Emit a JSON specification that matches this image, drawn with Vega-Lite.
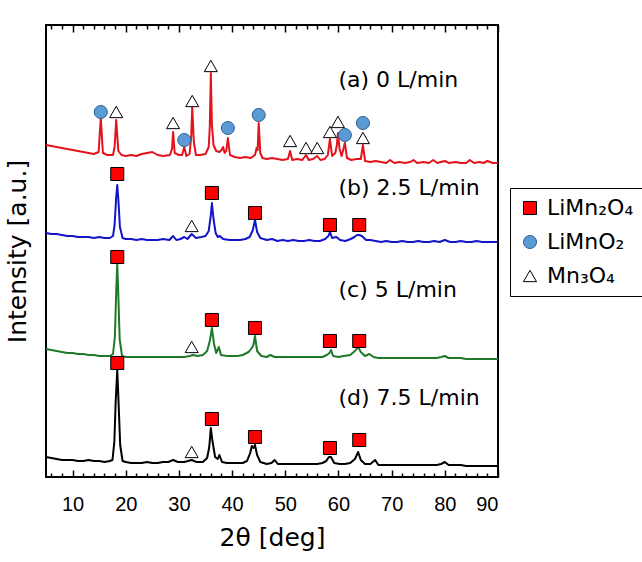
{
  "$schema": "https://vega.github.io/schema/vega-lite/v6.json",
  "width": 452,
  "height": 452,
  "autosize": {"type": "none"},
  "padding": {"left": 46, "top": 25, "right": 144, "bottom": 85},
  "config": {
    "view": {"stroke": "#000000", "strokeWidth": 2},
    "font": "DejaVu Sans",
    "legend": {
      "labelFont": "DejaVu Sans",
      "labelFontSize": 22,
      "labelColor": "#000000",
      "symbolSize": 170,
      "symbolStrokeWidth": 1,
      "strokeColor": "#000000",
      "fillColor": "#ffffff",
      "padding": 9,
      "rowPadding": 12,
      "labelOffset": 6,
      "labelLimit": 200
    }
  },
  "datasets": {
    "patterns": [
      {"s":"a","x":5,"y":332},{"s":"a","x":6,"y":331},{"s":"a","x":7,"y":330},{"s":"a","x":8,"y":329},{"s":"a","x":9,"y":328},{"s":"a","x":10,"y":327},{"s":"a","x":11,"y":326},{"s":"a","x":12,"y":325},{"s":"a","x":13,"y":324},{"s":"a","x":14,"y":323},{"s":"a","x":14.9,"y":325},{"s":"a","x":15.3,"y":359},{"s":"a","x":15.7,"y":324},{"s":"a","x":16.5,"y":322},{"s":"a","x":17.6,"y":322},{"s":"a","x":17.9,"y":330},{"s":"a","x":18.2,"y":357},{"s":"a","x":18.6,"y":326},{"s":"a","x":19.2,"y":322},{"s":"a","x":20,"y":321},{"s":"a","x":21,"y":322},{"s":"a","x":22,"y":321},{"s":"a","x":23,"y":323},{"s":"a","x":24,"y":324},{"s":"a","x":25,"y":325},{"s":"a","x":26,"y":322},{"s":"a","x":27,"y":321},{"s":"a","x":28.3,"y":322},{"s":"a","x":28.7,"y":328},{"s":"a","x":28.9,"y":345},{"s":"a","x":29.2,"y":324},{"s":"a","x":30,"y":322},{"s":"a","x":30.6,"y":322},{"s":"a","x":31.0,"y":330},{"s":"a","x":31.4,"y":321},{"s":"a","x":32.0,"y":323},{"s":"a","x":32.3,"y":340},{"s":"a","x":32.5,"y":370},{"s":"a","x":32.8,"y":335},{"s":"a","x":33.2,"y":322},{"s":"a","x":34,"y":322},{"s":"a","x":35,"y":323},{"s":"a","x":35.6,"y":330},{"s":"a","x":35.8,"y":350},{"s":"a","x":36.0,"y":404},{"s":"a","x":36.2,"y":352},{"s":"a","x":36.5,"y":332},{"s":"a","x":37,"y":326},{"s":"a","x":37.6,"y":325},{"s":"a","x":38.0,"y":327},{"s":"a","x":38.3,"y":330},{"s":"a","x":38.6,"y":324},{"s":"a","x":38.9,"y":326},{"s":"a","x":39.2,"y":339},{"s":"a","x":39.6,"y":322},{"s":"a","x":40.5,"y":320},{"s":"a","x":41.5,"y":319},{"s":"a","x":42.5,"y":320},{"s":"a","x":43.5,"y":319},{"s":"a","x":44.3,"y":322},{"s":"a","x":44.6,"y":329},{"s":"a","x":44.8,"y":327},{"s":"a","x":45.0,"y":354},{"s":"a","x":45.3,"y":324},{"s":"a","x":45.7,"y":319},{"s":"a","x":46.5,"y":318},{"s":"a","x":47.5,"y":319},{"s":"a","x":48.5,"y":318},{"s":"a","x":49.5,"y":317},{"s":"a","x":50.5,"y":318},{"s":"a","x":50.9,"y":326},{"s":"a","x":51.3,"y":317},{"s":"a","x":52.2,"y":318},{"s":"a","x":53.2,"y":317},{"s":"a","x":53.9,"y":322},{"s":"a","x":54.4,"y":317},{"s":"a","x":55.2,"y":318},{"s":"a","x":56.0,"y":321},{"s":"a","x":56.6,"y":317},{"s":"a","x":57.4,"y":318},{"s":"a","x":58.0,"y":322},{"s":"a","x":58.4,"y":338},{"s":"a","x":58.8,"y":321},{"s":"a","x":59.4,"y":324},{"s":"a","x":59.7,"y":332},{"s":"a","x":59.9,"y":344},{"s":"a","x":60.2,"y":328},{"s":"a","x":60.6,"y":321},{"s":"a","x":61.2,"y":334},{"s":"a","x":61.6,"y":319},{"s":"a","x":62.4,"y":317},{"s":"a","x":63.4,"y":318},{"s":"a","x":64.2,"y":318},{"s":"a","x":64.6,"y":332},{"s":"a","x":65.0,"y":316},{"s":"a","x":66,"y":315},{"s":"a","x":67,"y":316},{"s":"a","x":68,"y":315},{"s":"a","x":69,"y":314},{"s":"a","x":69.7,"y":317},{"s":"a","x":70.5,"y":314},{"s":"a","x":71.5,"y":315},{"s":"a","x":72.5,"y":314},{"s":"a","x":73.5,"y":315},{"s":"a","x":74.1,"y":317},{"s":"a","x":74.8,"y":314},{"s":"a","x":76,"y":315},{"s":"a","x":77,"y":314},{"s":"a","x":77.8,"y":317},{"s":"a","x":78.6,"y":314},{"s":"a","x":80,"y":316},{"s":"a","x":80.8,"y":314},{"s":"a","x":82,"y":315},{"s":"a","x":83,"y":314},{"s":"a","x":84,"y":314},{"s":"a","x":84.7,"y":317},{"s":"a","x":85.5,"y":314},{"s":"a","x":86.5,"y":315},{"s":"a","x":87.3,"y":314},{"s":"a","x":88,"y":316},{"s":"a","x":89,"y":314},{"s":"a","x":90,"y":314},

      {"s":"b","x":5,"y":244},{"s":"b","x":6,"y":243},{"s":"b","x":7,"y":243},{"s":"b","x":8,"y":242},{"s":"b","x":9,"y":241},{"s":"b","x":10,"y":241},{"s":"b","x":11,"y":240},{"s":"b","x":12,"y":240},{"s":"b","x":13,"y":240},{"s":"b","x":14,"y":239},{"s":"b","x":15,"y":240},{"s":"b","x":16,"y":239},{"s":"b","x":17,"y":239},{"s":"b","x":17.6,"y":241},{"s":"b","x":17.9,"y":252},{"s":"b","x":18.2,"y":280},{"s":"b","x":18.4,"y":292},{"s":"b","x":18.6,"y":278},{"s":"b","x":18.9,"y":250},{"s":"b","x":19.4,"y":239},{"s":"b","x":20,"y":238},{"s":"b","x":21,"y":238},{"s":"b","x":22,"y":237},{"s":"b","x":23,"y":238},{"s":"b","x":24,"y":237},{"s":"b","x":25,"y":237},{"s":"b","x":26,"y":237},{"s":"b","x":27,"y":238},{"s":"b","x":28.2,"y":237},{"s":"b","x":28.9,"y":241},{"s":"b","x":29.5,"y":237},{"s":"b","x":30.3,"y":238},{"s":"b","x":31.0,"y":240},{"s":"b","x":31.6,"y":238},{"s":"b","x":32.4,"y":243},{"s":"b","x":33.2,"y":239},{"s":"b","x":34.2,"y":240},{"s":"b","x":35,"y":241},{"s":"b","x":35.6,"y":246},{"s":"b","x":36.0,"y":262},{"s":"b","x":36.2,"y":274},{"s":"b","x":36.5,"y":258},{"s":"b","x":36.9,"y":244},{"s":"b","x":37.3,"y":240},{"s":"b","x":37.7,"y":241},{"s":"b","x":38.3,"y":238},{"s":"b","x":39.5,"y":237},{"s":"b","x":40.5,"y":237},{"s":"b","x":41.5,"y":237},{"s":"b","x":42.5,"y":238},{"s":"b","x":43.3,"y":240},{"s":"b","x":43.9,"y":247},{"s":"b","x":44.3,"y":257},{"s":"b","x":44.7,"y":245},{"s":"b","x":45.3,"y":239},{"s":"b","x":46.5,"y":237},{"s":"b","x":47.5,"y":238},{"s":"b","x":48.5,"y":236},{"s":"b","x":49.5,"y":237},{"s":"b","x":50.5,"y":236},{"s":"b","x":51.5,"y":237},{"s":"b","x":52.5,"y":236},{"s":"b","x":53.5,"y":236},{"s":"b","x":54.5,"y":237},{"s":"b","x":55.5,"y":236},{"s":"b","x":56.5,"y":236},{"s":"b","x":57.5,"y":238},{"s":"b","x":58.1,"y":241},{"s":"b","x":58.4,"y":245},{"s":"b","x":58.8,"y":239},{"s":"b","x":59.6,"y":240},{"s":"b","x":60.3,"y":237},{"s":"b","x":61.3,"y":236},{"s":"b","x":62.3,"y":238},{"s":"b","x":63.0,"y":240},{"s":"b","x":63.5,"y":242},{"s":"b","x":63.9,"y":242},{"s":"b","x":64.4,"y":241},{"s":"b","x":65.2,"y":237},{"s":"b","x":66,"y":237},{"s":"b","x":67,"y":236},{"s":"b","x":68,"y":235},{"s":"b","x":69,"y":236},{"s":"b","x":70,"y":235},{"s":"b","x":71,"y":235},{"s":"b","x":72,"y":236},{"s":"b","x":73,"y":235},{"s":"b","x":74,"y":235},{"s":"b","x":75,"y":236},{"s":"b","x":76,"y":235},{"s":"b","x":77,"y":235},{"s":"b","x":78,"y":236},{"s":"b","x":79,"y":235},{"s":"b","x":80,"y":237},{"s":"b","x":81,"y":235},{"s":"b","x":82,"y":235},{"s":"b","x":83,"y":236},{"s":"b","x":84,"y":235},{"s":"b","x":85,"y":235},{"s":"b","x":86,"y":236},{"s":"b","x":87,"y":235},{"s":"b","x":88,"y":235},{"s":"b","x":89,"y":235},{"s":"b","x":90,"y":235},

      {"s":"c","x":5,"y":128},{"s":"c","x":6,"y":127},{"s":"c","x":7,"y":126},{"s":"c","x":8,"y":125},{"s":"c","x":9,"y":124},{"s":"c","x":10,"y":124},{"s":"c","x":11,"y":123},{"s":"c","x":12,"y":123},{"s":"c","x":13,"y":122},{"s":"c","x":14,"y":122},{"s":"c","x":15,"y":121},{"s":"c","x":16,"y":121},{"s":"c","x":17,"y":121},{"s":"c","x":17.6,"y":123},{"s":"c","x":17.95,"y":140},{"s":"c","x":18.2,"y":185},{"s":"c","x":18.4,"y":213},{"s":"c","x":18.6,"y":182},{"s":"c","x":18.85,"y":138},{"s":"c","x":19.3,"y":121},{"s":"c","x":20,"y":120},{"s":"c","x":21,"y":120},{"s":"c","x":22,"y":120},{"s":"c","x":23,"y":120},{"s":"c","x":24,"y":120},{"s":"c","x":25,"y":120},{"s":"c","x":26,"y":120},{"s":"c","x":27,"y":120},{"s":"c","x":28,"y":120},{"s":"c","x":29,"y":120},{"s":"c","x":30,"y":120},{"s":"c","x":31,"y":120},{"s":"c","x":32,"y":121},{"s":"c","x":32.6,"y":122},{"s":"c","x":33.5,"y":121},{"s":"c","x":34.5,"y":122},{"s":"c","x":35.3,"y":126},{"s":"c","x":35.8,"y":136},{"s":"c","x":36.2,"y":149},{"s":"c","x":36.6,"y":133},{"s":"c","x":37.0,"y":124},{"s":"c","x":37.5,"y":130},{"s":"c","x":37.9,"y":122},{"s":"c","x":39,"y":121},{"s":"c","x":40,"y":121},{"s":"c","x":41,"y":121},{"s":"c","x":42,"y":122},{"s":"c","x":43.1,"y":125},{"s":"c","x":43.7,"y":129},{"s":"c","x":44.0,"y":132},{"s":"c","x":44.3,"y":141},{"s":"c","x":44.7,"y":126},{"s":"c","x":45.5,"y":121},{"s":"c","x":46.5,"y":120},{"s":"c","x":47.2,"y":122},{"s":"c","x":48,"y":120},{"s":"c","x":49,"y":120},{"s":"c","x":50,"y":120},{"s":"c","x":51,"y":120},{"s":"c","x":52,"y":120},{"s":"c","x":53,"y":120},{"s":"c","x":54,"y":120},{"s":"c","x":55,"y":120},{"s":"c","x":56,"y":120},{"s":"c","x":57,"y":120},{"s":"c","x":57.8,"y":122},{"s":"c","x":58.3,"y":124},{"s":"c","x":58.6,"y":127},{"s":"c","x":59.0,"y":121},{"s":"c","x":60,"y":120},{"s":"c","x":61,"y":121},{"s":"c","x":62.2,"y":122},{"s":"c","x":63.1,"y":126},{"s":"c","x":63.7,"y":130},{"s":"c","x":64.2,"y":125},{"s":"c","x":65,"y":121},{"s":"c","x":65.8,"y":123},{"s":"c","x":66.6,"y":120},{"s":"c","x":67.5,"y":119},{"s":"c","x":68.5,"y":119},{"s":"c","x":69.5,"y":119},{"s":"c","x":70.5,"y":119},{"s":"c","x":71.5,"y":119},{"s":"c","x":72.5,"y":119},{"s":"c","x":73.5,"y":119},{"s":"c","x":74.5,"y":119},{"s":"c","x":75.5,"y":119},{"s":"c","x":76.5,"y":119},{"s":"c","x":77.5,"y":119},{"s":"c","x":78.5,"y":119},{"s":"c","x":79.3,"y":120},{"s":"c","x":80,"y":121},{"s":"c","x":80.7,"y":119},{"s":"c","x":82,"y":119},{"s":"c","x":83,"y":119},{"s":"c","x":84,"y":118},{"s":"c","x":85,"y":118},{"s":"c","x":86,"y":118},{"s":"c","x":87,"y":118},{"s":"c","x":88,"y":118},{"s":"c","x":89,"y":118},{"s":"c","x":90,"y":118},

      {"s":"d","x":5,"y":20},{"s":"d","x":6,"y":19},{"s":"d","x":7,"y":18},{"s":"d","x":8,"y":17},{"s":"d","x":9,"y":17},{"s":"d","x":10,"y":17},{"s":"d","x":11,"y":16},{"s":"d","x":12,"y":16},{"s":"d","x":13,"y":17},{"s":"d","x":14,"y":16},{"s":"d","x":15,"y":16},{"s":"d","x":16,"y":15},{"s":"d","x":17,"y":16},{"s":"d","x":17.5,"y":17},{"s":"d","x":17.85,"y":35},{"s":"d","x":18.1,"y":75},{"s":"d","x":18.4,"y":107},{"s":"d","x":18.65,"y":74},{"s":"d","x":18.95,"y":32},{"s":"d","x":19.4,"y":16},{"s":"d","x":20,"y":15},{"s":"d","x":21,"y":14},{"s":"d","x":22,"y":14},{"s":"d","x":23,"y":14},{"s":"d","x":24,"y":15},{"s":"d","x":25,"y":14},{"s":"d","x":26,"y":14},{"s":"d","x":27,"y":15},{"s":"d","x":28,"y":15},{"s":"d","x":28.9,"y":17},{"s":"d","x":29.8,"y":15},{"s":"d","x":31,"y":15},{"s":"d","x":32.4,"y":17},{"s":"d","x":33.3,"y":15},{"s":"d","x":34.5,"y":15},{"s":"d","x":35.3,"y":19},{"s":"d","x":35.7,"y":30},{"s":"d","x":36.0,"y":49},{"s":"d","x":36.3,"y":36},{"s":"d","x":36.8,"y":20},{"s":"d","x":37.3,"y":18},{"s":"d","x":37.6,"y":22},{"s":"d","x":38.1,"y":15},{"s":"d","x":39,"y":14},{"s":"d","x":40,"y":14},{"s":"d","x":41,"y":14},{"s":"d","x":42,"y":14},{"s":"d","x":42.8,"y":16},{"s":"d","x":43.4,"y":24},{"s":"d","x":43.7,"y":31},{"s":"d","x":44.0,"y":29},{"s":"d","x":44.3,"y":32},{"s":"d","x":44.7,"y":22},{"s":"d","x":45.3,"y":15},{"s":"d","x":46.5,"y":13},{"s":"d","x":47.4,"y":14},{"s":"d","x":48.0,"y":17},{"s":"d","x":48.6,"y":13},{"s":"d","x":50,"y":13},{"s":"d","x":51,"y":13},{"s":"d","x":52,"y":13},{"s":"d","x":53,"y":13},{"s":"d","x":54,"y":13},{"s":"d","x":55,"y":13},{"s":"d","x":56,"y":13},{"s":"d","x":57,"y":14},{"s":"d","x":57.7,"y":16},{"s":"d","x":58.2,"y":20},{"s":"d","x":58.6,"y":20},{"s":"d","x":59.2,"y":14},{"s":"d","x":60.2,"y":13},{"s":"d","x":61.2,"y":13},{"s":"d","x":62.2,"y":14},{"s":"d","x":63.1,"y":18},{"s":"d","x":63.7,"y":25},{"s":"d","x":64.2,"y":17},{"s":"d","x":65,"y":13},{"s":"d","x":66,"y":13},{"s":"d","x":66.9,"y":17},{"s":"d","x":67.5,"y":12},{"s":"d","x":68.5,"y":12},{"s":"d","x":69.5,"y":12},{"s":"d","x":70.5,"y":12},{"s":"d","x":71.5,"y":12},{"s":"d","x":72.5,"y":12},{"s":"d","x":73.5,"y":12},{"s":"d","x":74.5,"y":12},{"s":"d","x":75.5,"y":12},{"s":"d","x":76.5,"y":12},{"s":"d","x":77.5,"y":12},{"s":"d","x":78.5,"y":12},{"s":"d","x":79.3,"y":13},{"s":"d","x":80,"y":15},{"s":"d","x":80.7,"y":12},{"s":"d","x":82,"y":12},{"s":"d","x":83,"y":12},{"s":"d","x":84,"y":11},{"s":"d","x":85,"y":11},{"s":"d","x":86,"y":11},{"s":"d","x":87,"y":11},{"s":"d","x":88,"y":11},{"s":"d","x":89,"y":11},{"s":"d","x":90,"y":11}
    ],
    "markers": [
      {"phase":"LiMnO₂","x":15.3,"y":365},
      {"phase":"Mn₃O₄","x":18.2,"y":365},
      {"phase":"Mn₃O₄","x":28.9,"y":354},
      {"phase":"LiMnO₂","x":31.0,"y":337},
      {"phase":"Mn₃O₄","x":32.5,"y":376},
      {"phase":"Mn₃O₄","x":36.0,"y":411},
      {"phase":"LiMnO₂","x":39.2,"y":349},
      {"phase":"LiMnO₂","x":45.0,"y":362},
      {"phase":"Mn₃O₄","x":50.9,"y":336},
      {"phase":"Mn₃O₄","x":53.9,"y":329},
      {"phase":"Mn₃O₄","x":56.0,"y":329},
      {"phase":"Mn₃O₄","x":58.4,"y":345},
      {"phase":"Mn₃O₄","x":59.9,"y":355},
      {"phase":"LiMnO₂","x":61.2,"y":342},
      {"phase":"Mn₃O₄","x":64.6,"y":339},
      {"phase":"LiMnO₂","x":64.6,"y":354},
      {"phase":"LiMn₂O₄","x":18.4,"y":303},
      {"phase":"Mn₃O₄","x":32.4,"y":251},
      {"phase":"LiMn₂O₄","x":36.2,"y":284},
      {"phase":"LiMn₂O₄","x":44.3,"y":264},
      {"phase":"LiMn₂O₄","x":58.4,"y":252},
      {"phase":"LiMn₂O₄","x":63.9,"y":252},
      {"phase":"LiMn₂O₄","x":18.4,"y":220},
      {"phase":"Mn₃O₄","x":32.4,"y":130},
      {"phase":"LiMn₂O₄","x":36.2,"y":157},
      {"phase":"LiMn₂O₄","x":44.3,"y":149},
      {"phase":"LiMn₂O₄","x":58.4,"y":136},
      {"phase":"LiMn₂O₄","x":63.9,"y":136},
      {"phase":"LiMn₂O₄","x":18.4,"y":114},
      {"phase":"Mn₃O₄","x":32.4,"y":25},
      {"phase":"LiMn₂O₄","x":36.2,"y":58},
      {"phase":"LiMn₂O₄","x":44.3,"y":40},
      {"phase":"LiMn₂O₄","x":58.4,"y":29},
      {"phase":"LiMn₂O₄","x":63.9,"y":37}
    ],
    "labels": [
      {"label":"(a) 0 L/min","x":60,"y":397},
      {"label":"(b) 2.5 L/min","x":60,"y":289},
      {"label":"(c) 5 L/min","x":60,"y":187},
      {"label":"(d) 7.5 L/min","x":60,"y":79}
    ]
  },
  "layer": [
    {
      "data": {"name": "patterns"},
      "mark": {"type": "line", "strokeWidth": 2, "strokeJoin": "round"},
      "encoding": {
        "x": {
          "field": "x", "type": "quantitative",
          "scale": {"domain": [5, 90], "nice": false, "zero": false},
          "axis": {
            "orient": "bottom",
            "title": "2θ [deg]",
            "titleFont": "DejaVu Sans",
            "titleFontSize": 25,
            "titleFontWeight": "normal",
            "titleColor": "#000000",
            "titlePadding": 8,
            "values": [6,8,10,12,14,16,18,20,22,24,26,28,30,32,34,36,38,40,42,44,46,48,50,52,54,56,58,60,62,64,66,68,70,72,74,76,78,80,82,84,86,88,90],
            "labelExpr": "datum.value % 10 === 0 ? datum.label : ''",
            "labelFont": "Liberation Sans",
            "labelFontSize": 20,
            "labelColor": "#000000",
            "labelPadding": 24,
            "labelOverlap": false,
            "tickSize": {"condition": {"test": "datum.value % 10 === 0", "value": -7}, "value": -4},
            "tickColor": "#000000",
            "tickWidth": 1.5,
            "domain": false,
            "grid": false
          }
        },
        "y": {
          "field": "y", "type": "quantitative",
          "scale": {"domain": [0, 452], "nice": false},
          "axis": {
            "title": "Intensity [a.u.]",
            "titleFont": "DejaVu Sans",
            "titleFontSize": 25,
            "titleFontWeight": "normal",
            "titleColor": "#000000",
            "titlePadding": 16,
            "labels": false, "ticks": false, "domain": false, "grid": false
          }
        },
        "color": {
          "field": "s", "type": "nominal",
          "scale": {"domain": ["a","b","c","d"], "range": ["#e3121b","#1414c8","#1e7a28","#000000"]},
          "legend": null
        }
      }
    },
    {
      "data": {"name": "markers"},
      "mark": {"type": "point", "size": 170, "strokeWidth": 1, "opacity": 1, "fillOpacity": 1},
      "encoding": {
        "x": {
          "field": "x", "type": "quantitative",
          "scale": {"domain": [5, 90], "nice": false, "zero": false},
          "axis": {
            "orient": "top",
            "title": null,
            "labels": false,
            "values": [6,8,10,12,14,16,18,20,22,24,26,28,30,32,34,36,38,40,42,44,46,48,50,52,54,56,58,60,62,64,66,68,70,72,74,76,78,80,82,84,86,88,90],
            "tickSize": {"condition": {"test": "datum.value % 10 === 0", "value": -7}, "value": -4},
            "tickColor": "#000000",
            "tickWidth": 1.5,
            "domain": false,
            "grid": false
          }
        },
        "y": {
          "field": "y", "type": "quantitative",
          "scale": {"domain": [0, 452], "nice": false},
          "axis": {
            "title": "Intensity [a.u.]",
            "titleFont": "DejaVu Sans",
            "titleFontSize": 25,
            "titleFontWeight": "normal",
            "titleColor": "#000000",
            "titlePadding": 16,
            "labels": false, "ticks": false, "domain": false, "grid": false
          }
        },
        "shape": {
          "field": "phase", "type": "nominal",
          "scale": {"domain": ["LiMn₂O₄","LiMnO₂","Mn₃O₄"], "range": ["square","circle","triangle-up"]},
          "legend": {"title": null, "orient": "none", "legendX": 464, "legendY": 163}
        },
        "fill": {
          "field": "phase", "type": "nominal",
          "scale": {"domain": ["LiMn₂O₄","LiMnO₂","Mn₃O₄"], "range": ["#ff0000","#5b9bd5","#ffffff"]},
          "legend": {"title": null, "orient": "none", "legendX": 464, "legendY": 163}
        },
        "stroke": {
          "field": "phase", "type": "nominal",
          "scale": {"domain": ["LiMn₂O₄","LiMnO₂","Mn₃O₄"], "range": ["#000000","#2e5f8e","#000000"]},
          "legend": {"title": null, "orient": "none", "legendX": 464, "legendY": 163}
        }
      }
    },
    {
      "data": {"name": "labels"},
      "mark": {"type": "text", "align": "left", "baseline": "middle", "font": "DejaVu Sans", "fontSize": 22, "color": "#000000"},
      "encoding": {
        "x": {"field": "x", "type": "quantitative", "scale": {"domain": [5, 90], "nice": false, "zero": false}, "axis": null},
        "y": {"field": "y", "type": "quantitative", "scale": {"domain": [0, 452], "nice": false}},
        "text": {"field": "label", "type": "nominal"}
      }
    }
  ],
  "resolve": {"axis": {"x": "independent"}}
}
